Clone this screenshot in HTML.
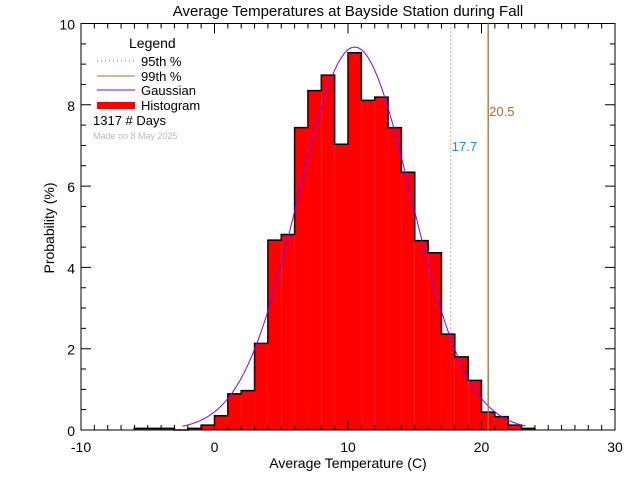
<!DOCTYPE html>
<html><head><meta charset="utf-8"><style>
body{margin:0;background:#fff}
svg text{font-family:"Liberation Sans",sans-serif}
</style></head><body>
<svg id="c" width="640" height="480" xmlns="http://www.w3.org/2000/svg">
<text x="348" y="16" font-size="15" text-anchor="middle">Average Temperatures at Bayside Station during Fall</text>
<text x="348" y="468" font-size="14" text-anchor="middle">Average Temperature (C)</text>
<text transform="translate(54,228) rotate(-90)" font-size="14" text-anchor="middle">Probability  (%)</text>
<g id="bars"></g>
<g id="axes"></g>
<g id="legend">
<text x="129" y="48" font-size="14">Legend</text>
<line x1="97" y1="61" x2="135" y2="61" stroke="#3a7fd0" stroke-dasharray="1,3"/>
<text x="141" y="66" font-size="13">95th %</text>
<line x1="97" y1="76" x2="135" y2="76" stroke="#b0682a"/>
<text x="141" y="81" font-size="13">99th %</text>
<line x1="97" y1="90" x2="135" y2="90" stroke="#8000ff"/>
<text x="141" y="95" font-size="13">Gaussian</text>
<rect x="97" y="102" width="38" height="7" fill="#ff0000"/>
<text x="141" y="110" font-size="13">Histogram</text>
<text x="93" y="125" font-size="13">1317   # Days</text>
<text x="93" y="139" font-size="9" fill="#bbb">Made on 8 May 2025</text>
</g>
</svg>
<script>
const binStarts=[-6,-5,-4,-3,-2,-1,0,1,2,3,4,5,6,7,8,9,10,11,12,13,14,15,16,17,18,19,20,21,22,23];
const binValues=[0.04,0.04,0.04,0,0.04,0.12,0.35,0.89,0.97,2.13,4.67,4.81,7.44,8.35,8.73,7.03,9.28,8.11,8.19,7.44,6.34,4.66,4.36,2.36,1.80,1.22,0.44,0.33,0.12,0.04];
const gaussMean=10.5, gaussSigma=4.25, gaussPeak=9.42, gaussRange=[-2.4,23.4];
const p95=17.7, p99=20.5;
const xTicks=[-10,0,10,20,30], yTicks=[0,2,4,6,8,10];
const NS="http://www.w3.org/2000/svg";
const X0=81,X1=615,Y0=430,Y1=23.5;
const sx=v=>X0+(v+10)/40*(X1-X0);
const sy=v=>Y0-v/10*(Y0-Y1);
function mk(t,a,p){const e=document.createElementNS(NS,t);for(const k in a)e.setAttribute(k,a[k]);p.appendChild(e);return e;}
const bars=document.getElementById('bars'), axes=document.getElementById('axes'), svg=document.getElementById('c');
// bars
binStarts.forEach((s,i)=>{const v=binValues[i];if(v<=0)return;
 const r=mk('rect',{x:sx(s),y:sy(v),width:sx(s+1)-sx(s),height:Y0-sy(v),fill:'#ff0000'},bars);
 
 });
// outline step
let d='M'+sx(binStarts[0])+','+Y0;
binStarts.forEach((s,i)=>{d+=' L'+sx(s)+','+sy(binValues[i])+' L'+sx(s+1)+','+sy(binValues[i]);});
d+=' L'+sx(binStarts[binStarts.length-1]+1)+','+Y0;
const ol=mk('path',{d:d,fill:'none',stroke:'#000','stroke-width':1.5},bars);


// gaussian
let g='';for(let x=gaussRange[0];x<=gaussRange[1];x+=0.1){const y=gaussPeak*Math.exp(-((x-gaussMean)**2)/(2*gaussSigma**2));g+=(g?' L':'M')+sx(x).toFixed(1)+','+sy(y).toFixed(1);}
const gp=mk('path',{d:g,fill:'none',stroke:'#8000ff','stroke-width':1},svg);


// percentiles
const l95=mk('line',{x1:sx(p95),x2:sx(p95),y1:Y1,y2:Y0,stroke:'#a07050','stroke-dasharray':'1,3'},svg);


const l99=mk('line',{x1:sx(p99),x2:sx(p99),y1:Y1,y2:Y0,stroke:'#b0682a','stroke-width':1.3},svg);


const t95=mk('text',{x:sx(p95)+1,y:151,'font-size':13,fill:'#2a88e0'},svg);t95.textContent=p95.toFixed(1);


const t99=mk('text',{x:sx(p99)+1,y:116,'font-size':13,fill:'#b0682a'},svg);t99.textContent=p99.toFixed(1);


// axes box
const box=mk('rect',{x:X0,y:Y1,width:X1-X0,height:Y0-Y1,fill:'none',stroke:'#000'},axes);


let tk='';
for(let v=-10;v<=30;v++){const L=(v%10===0)?10:5;const x=sx(v);tk+=`M${x},${Y0}v${-L}M${x},${Y1}v${L}`;}
for(let v=0;v<=10;v+=0.5){const L=(v%2===0)?10:5;const y=sy(v);tk+=`M${X0},${y}h${L}M${X1},${y}h${-L}`;}
const tp=mk('path',{d:tk,stroke:'#000',fill:'none'},axes);


xTicks.forEach(v=>{const t=mk('text',{x:sx(v),y:452,'font-size':14,'text-anchor':'middle'},axes);t.textContent=v;
 
 });
yTicks.forEach(v=>{const t=mk('text',{x:X0-6,y:sy(v)+6,'font-size':14,'text-anchor':'end'},axes);t.textContent=v;
 
 });
</script>
</body></html>
